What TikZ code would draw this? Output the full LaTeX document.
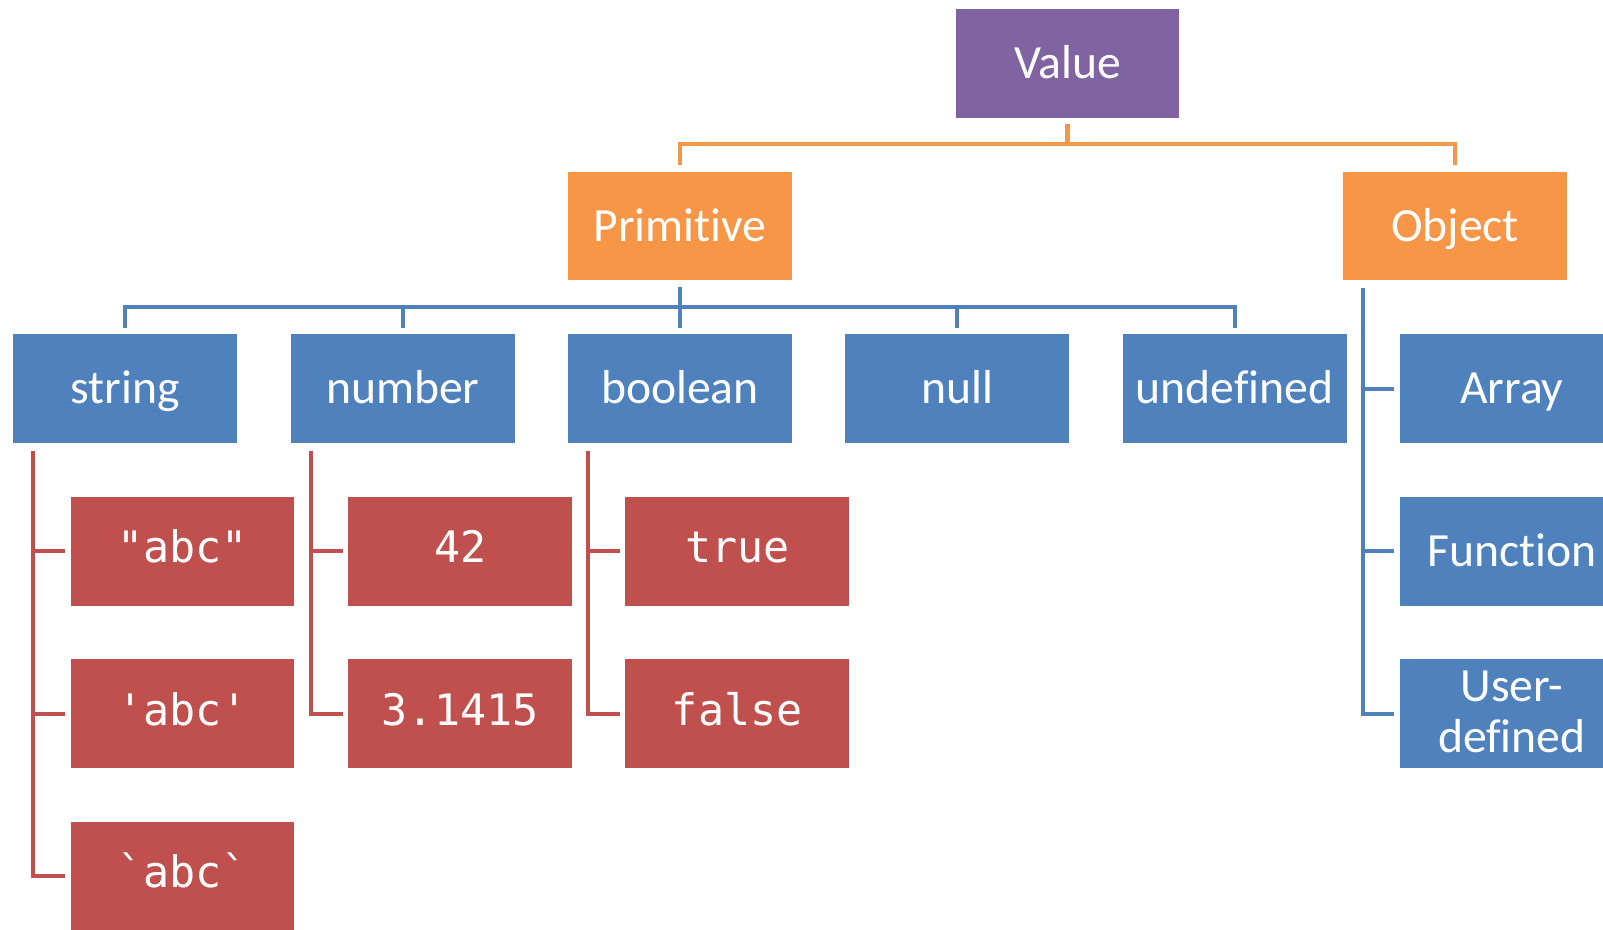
\documentclass[tikz,border=0pt]{standalone}
\usepackage{fontspec}
\setmainfont{Carlito}[Ligatures=NoCommon]
\setmonofont{DejaVu Sans Mono}
\newlength{\du}
\setlength{\du}{0.5pt}
\definecolor{valuecolor}{HTML}{8064A2}
\definecolor{kindcolor}{HTML}{F79646}
\definecolor{typecolor}{HTML}{4F81BD}
\definecolor{litcolor}{HTML}{C0504D}

\begin{document}
\begin{tikzpicture}[x=1\du,y=-1\du,
  box/.style={minimum width=219\du,minimum height=106.5\du,inner sep=0pt,
    text=white,text height=16pt,text depth=1.3pt,
    font=\fontsize{23.3}{25}\selectfont},
  valbox/.style={box,fill=valuecolor},
  kindbox/.style={box,fill=kindcolor},
  typebox/.style={box,fill=typecolor},
  litbox/.style={box,fill=litcolor,text height=13pt,text depth=1.75pt,
    font=\ttfamily\fontsize{21.2}{25}\selectfont},
  kindline/.style={draw=kindcolor,line width=4\du,shorten <=6\du,shorten >=6\du},
  typeline/.style={draw=typecolor,line width=4\du},
  litline/.style={draw=litcolor,line width=4\du,shorten >=5\du}]
\useasboundingbox (0,0) rectangle (1567.7,909.5);
\clip (0,0) rectangle (1567.7,909.5);
% top
\node[valbox] (val) at (1044,62) {Value};
\node[kindbox] (prim) at (665,221) {Primitive};
\node[kindbox] (obj) at (1423,221) {Object};
% primitive types
\node[typebox] (str) at (122.5,380) {string};
\node[typebox] (num) at (394,380) {number};
\node[typebox] (bool) at (665,380) {boolean};
\node[typebox] (null) at (936,380) {null};
\node[typebox] (undef) at (1207.5,380) {undefined};
% object types
\node[typebox] (arr) at (1478.5,380) {Array};
\node[typebox] (fun) at (1478.5,539) {Function};
\node[typebox,text height=40pt,text depth=2pt] (usr) at (1478.5,698)
  {\begin{tabular}[b]{@{}c@{}}User-\\defined\end{tabular}};
% literals
\node[litbox] (str1) at (178.5,539) {"abc"};
\node[litbox] (str2) at (178.5,698) {'abc'};
\node[litbox] (str3) at (178.5,857) {`abc`};
\node[litbox] (num1) at (450,539) {42};
\node[litbox] (num2) at (450,698) {3.1415};
\node[litbox] (bool1) at (721,539) {true};
\node[litbox] (bool2) at (721,698) {false};
% forks
\coordinate (valfork) at (1044,141);
\coordinate (primfork) at (665,300);
\coordinate (objtrunk) at ([xshift=20\du,yshift=-7\du]obj.south west);
\coordinate (strtrunk) at ([xshift=20\du,yshift=-7\du]str.south west);
\coordinate (numtrunk) at ([xshift=20\du,yshift=-7\du]num.south west);
\coordinate (booltrunk) at ([xshift=20\du,yshift=-7\du]bool.south west);
% value -> kinds
\draw[kindline] (val.south) -- (valfork) -| (prim.north);
\draw[kindline,shorten <=0pt] (valfork) -| (obj.north);
% primitive -> types
\draw[typeline,shorten <=6\du,shorten >=6\du] (prim.south) -- (primfork) -| (str.north);
\foreach \t in {num,bool,null,undef}
  \draw[typeline,shorten >=6\du] (primfork) -| (\t.north);
% object -> types
\foreach \t in {arr,fun,usr}
  \draw[typeline,shorten >=5\du] (objtrunk) |- (\t.west);
% types -> literals
\foreach \t in {str1,str2,str3}
  \draw[litline] (strtrunk) |- (\t.west);
\foreach \t in {num1,num2}
  \draw[litline] (numtrunk) |- (\t.west);
\foreach \t in {bool1,bool2}
  \draw[litline] (booltrunk) |- (\t.west);
\end{tikzpicture}
\end{document}
